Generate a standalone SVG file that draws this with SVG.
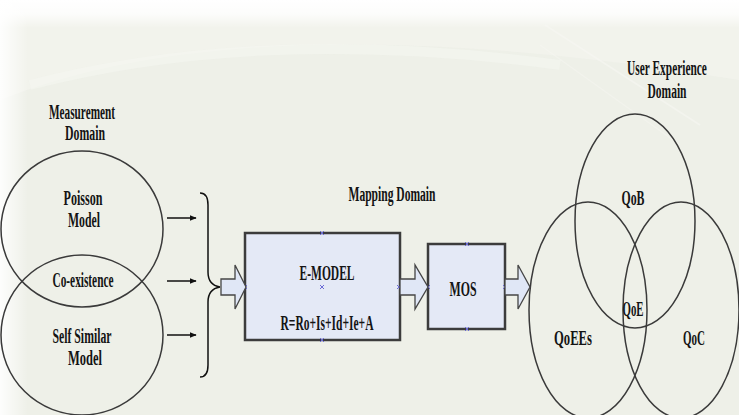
<svg xmlns="http://www.w3.org/2000/svg" width="739" height="415" viewBox="0 0 739 415">
<defs>
<linearGradient id="topFade" x1="0" y1="0" x2="0" y2="1">
<stop offset="0" stop-color="#ffffff" stop-opacity="1"/>
<stop offset="0.5" stop-color="#ffffff" stop-opacity="0.8"/>
<stop offset="1" stop-color="#ffffff" stop-opacity="0"/>
</linearGradient>
<linearGradient id="leftFade" x1="0" y1="0" x2="1" y2="0">
<stop offset="0" stop-color="#ffffff" stop-opacity="0.9"/>
<stop offset="1" stop-color="#ffffff" stop-opacity="0"/>
</linearGradient>
<marker id="ah" viewBox="0 0 10 10" refX="9" refY="5" markerWidth="7" markerHeight="7" markerUnits="userSpaceOnUse" orient="auto">
<path d="M0,1 L10,5 L0,9 Z" fill="#111"/>
</marker>
<style>
.t{font-family:"Liberation Serif","Times New Roman",serif;font-weight:bold;font-size:20px;fill:#141414;text-anchor:middle}
.ring{fill:none;stroke:#3a3a3a;stroke-width:1.5}
.box{fill:#e4e9f6;stroke:#3c3c3c;stroke-width:2.5}
.blk{fill:#e0e7f6;stroke:#454545;stroke-width:1.3}
.mk{stroke:#6b6bd6;stroke-width:1;fill:none}
.ln{stroke:#111;stroke-width:1.5;fill:none}
</style>
</defs>
<rect width="739" height="415" fill="#eef0e8"/>
<path d="M0 100 Q 250 0 739 80 L739 0 L0 0 Z" fill="#f3f4ee" opacity="0.7"/>
<path d="M30 85 Q 260 25 560 65" fill="none" stroke="#f6f7f2" stroke-width="10" opacity="0.5"/>
<path d="M545 25 L700 125" stroke="#f8f8f4" stroke-width="2" opacity="0.5"/>
<path d="M540 45 L680 145" stroke="#f8f8f4" stroke-width="1.5" opacity="0.4"/>
<rect width="739" height="28" fill="url(#topFade)"/>
<rect width="28" height="415" fill="url(#leftFade)"/>

<g id="measurement-domain">
<text class="t" x="82" y="119" textLength="66" lengthAdjust="spacingAndGlyphs">Measurement</text>
<text class="t" x="85" y="140" textLength="40" lengthAdjust="spacingAndGlyphs">Domain</text>
</g>
<g id="poisson">
<ellipse class="ring" cx="82" cy="229" rx="81" ry="78"/>
<text class="t" x="83" y="205" textLength="39" lengthAdjust="spacingAndGlyphs">Poisson</text>
<text class="t" x="84" y="227" textLength="32" lengthAdjust="spacingAndGlyphs">Model</text>
</g>
<g id="self-similar">
<ellipse class="ring" cx="82" cy="335" rx="81" ry="80"/>
<text class="t" x="82" y="343" textLength="59" lengthAdjust="spacingAndGlyphs">Self Similar</text>
<text class="t" x="85" y="365" textLength="34" lengthAdjust="spacingAndGlyphs">Model</text>
</g>
<g id="co-existence">
<text class="t" x="83" y="287" textLength="61" lengthAdjust="spacingAndGlyphs">Co-existence</text>
</g>

<g id="mapping-domain">
<text class="t" x="392" y="201" textLength="87" lengthAdjust="spacingAndGlyphs">Mapping Domain</text>
</g>
<g id="e-model">
<rect class="box" x="245" y="233" width="155" height="107"/>
<text class="t" x="327" y="280" textLength="55" lengthAdjust="spacingAndGlyphs">E-MODEL</text>
<text class="t" x="327" y="330" textLength="93" lengthAdjust="spacingAndGlyphs">R=Ro+Is+Id+Ie+A</text>
<path class="mk" d="M320 231 l4 4 M324 231 l-4 4 M320 285 l4 4 M324 285 l-4 4 M320 338 l4 4 M324 338 l-4 4 M243 285 l4 4 M247 285 l-4 4 M397 285 l4 4 M401 285 l-4 4"/>
</g>
<g id="mos">
<rect class="box" x="428" y="244" width="77" height="85"/>
<text class="t" x="463" y="296" textLength="27" lengthAdjust="spacingAndGlyphs">MOS</text>
<path class="mk" d="M465 242 l4 4 M469 242 l-4 4 M465 327 l4 4 M469 327 l-4 4 M426 285 l4 4 M430 285 l-4 4 M503 285 l4 4 M507 285 l-4 4"/>
</g>

<g id="user-experience-domain">
<text class="t" transform="translate(667 75) scale(0.57 1)" x="0" y="0">User Experience</text>
<text class="t" x="667" y="98" textLength="39" lengthAdjust="spacingAndGlyphs">Domain</text>
</g>
<g id="qob">
<ellipse class="ring" cx="635" cy="221" rx="60" ry="107"/>
<text class="t" x="633" y="205" textLength="23" lengthAdjust="spacingAndGlyphs">QoB</text>
</g>
<g id="qoees">
<ellipse class="ring" cx="588" cy="310" rx="59" ry="108"/>
<text class="t" x="573" y="345" textLength="38" lengthAdjust="spacingAndGlyphs">QoEEs</text>
</g>
<g id="qoc">
<ellipse class="ring" cx="681" cy="310" rx="58" ry="108"/>
<text class="t" x="694" y="345" textLength="22" lengthAdjust="spacingAndGlyphs">QoC</text>
</g>
<g id="qoe">
<text class="t" x="633" y="316" textLength="21" lengthAdjust="spacingAndGlyphs">QoE</text>
</g>

<g id="connectors">
<line class="ln" x1="167" y1="218" x2="196" y2="218" marker-end="url(#ah)"/>
<line class="ln" x1="167" y1="281" x2="196" y2="281" marker-end="url(#ah)"/>
<line class="ln" x1="167" y1="335" x2="196" y2="335" marker-end="url(#ah)"/>
<path class="ln" stroke-width="1.3" d="M200 193 Q 208 193 208 205 L 208 272 Q 208 285 220 287 Q 208 289 208 302 L 208 365 Q 208 377 200 377"/>
<path class="blk" d="M221 279 H235 V265 L246 287 L235 309 V295 H221 Z"/>
<path class="blk" d="M400 279 H415 V265 L428 287 L415 309 V295 H400 Z"/>
<path class="blk" d="M505 279 H518 V265 L530 287 L518 309 V295 H505 Z"/>
</g>
</svg>
